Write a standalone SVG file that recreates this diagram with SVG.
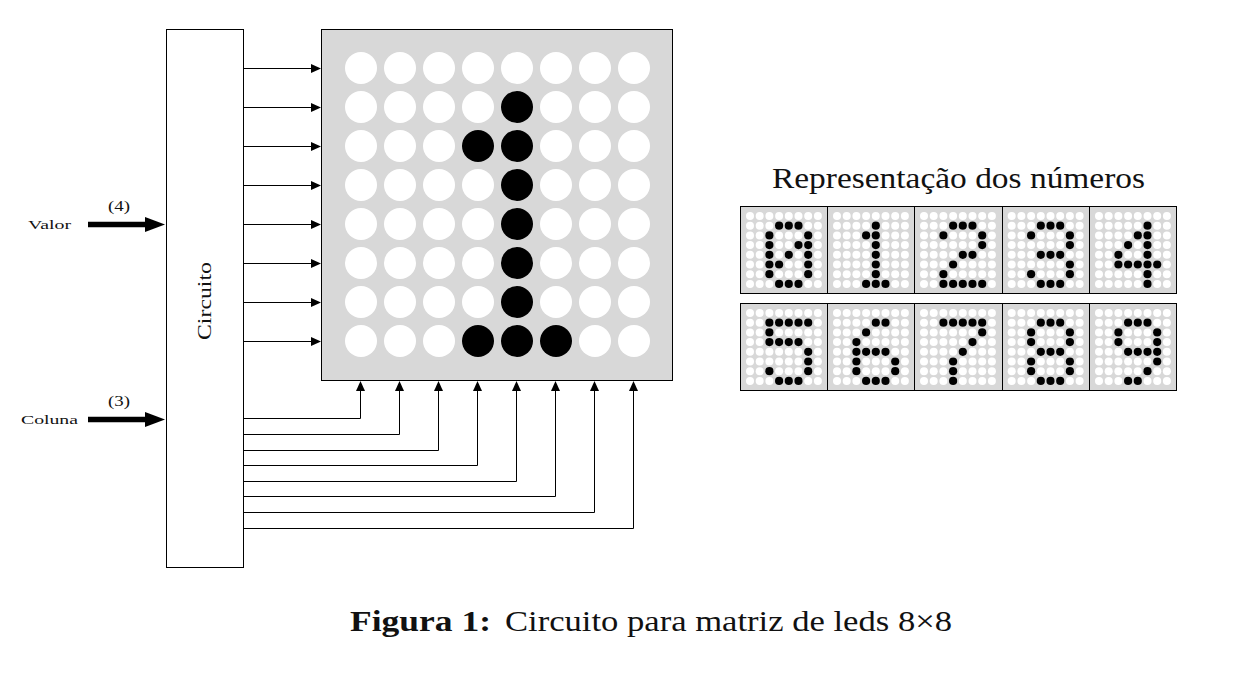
<svg xmlns="http://www.w3.org/2000/svg" xmlns:xlink="http://www.w3.org/1999/xlink" width="1239" height="689" viewBox="0 0 1239 689">
<style>
.t{font-family:"Liberation Serif","Times New Roman",serif;fill:#111}
.box{fill:#fff;stroke:#000;stroke-width:1}
.panel{fill:#d8d8d8;stroke:#000;stroke-width:1}
.c{fill:none;stroke:#000;stroke-width:1;marker-end:url(#a)}
.thick{fill:none;stroke:#000;stroke-width:5.500;marker-end:url(#A)}
.w{fill:#fff}.b{fill:#000}
</style>
<defs>
<marker id="a" markerUnits="userSpaceOnUse" markerWidth="10" markerHeight="9" refX="7" refY="4.500" orient="auto"><path d="M0 0L10 4.500L0 9z" fill="#000"/></marker>
<marker id="A" markerUnits="userSpaceOnUse" markerWidth="20" markerHeight="15" refX="5" refY="7.500" orient="auto"><path d="M0 0L20 7.500L0 15z" fill="#000"/></marker>
<g id="sd"><circle class="w" cx="0" cy="0" r="4"/><circle class="w" cx="9.7" cy="0" r="4"/><circle class="w" cx="19.4" cy="0" r="4"/><circle class="w" cx="29.1" cy="0" r="4"/><circle class="w" cx="38.8" cy="0" r="4"/><circle class="w" cx="48.5" cy="0" r="4"/><circle class="w" cx="58.2" cy="0" r="4"/><circle class="w" cx="67.9" cy="0" r="4"/></g>
<g id="sg"><use xlink:href="#sd" y="0"/><use xlink:href="#sd" y="9.7"/><use xlink:href="#sd" y="19.4"/><use xlink:href="#sd" y="29.1"/><use xlink:href="#sd" y="38.8"/><use xlink:href="#sd" y="48.5"/><use xlink:href="#sd" y="58.2"/><use xlink:href="#sd" y="67.9"/></g>
<g id="md"><circle class="w" cx="0" cy="0" r="16"/><circle class="w" cx="39" cy="0" r="16"/><circle class="w" cx="78" cy="0" r="16"/><circle class="w" cx="117" cy="0" r="16"/><circle class="w" cx="156" cy="0" r="16"/><circle class="w" cx="195" cy="0" r="16"/><circle class="w" cx="234" cy="0" r="16"/><circle class="w" cx="273" cy="0" r="16"/></g>
<circle id="k" class="b" r="4.100"/>
</defs>
<g id="circuito"><rect class="box" x="166.5" y="29.5" width="77" height="538"/>
<text class="t" font-size="19" text-anchor="middle" textLength="78" lengthAdjust="spacingAndGlyphs" transform="translate(211,301) rotate(-90)">Circuito</text></g>
<g id="matriz"><rect class="panel" x="321.5" y="29.5" width="351" height="351"/>
<g transform="translate(361,68)"><use xlink:href="#md" y="0"/><use xlink:href="#md" y="39"/><use xlink:href="#md" y="78"/><use xlink:href="#md" y="117"/><use xlink:href="#md" y="156"/><use xlink:href="#md" y="195"/><use xlink:href="#md" y="234"/><use xlink:href="#md" y="273"/>
<g class="b"><circle cx="156" cy="39" r="16"/><circle cx="117" cy="78" r="16"/><circle cx="156" cy="78" r="16"/><circle cx="156" cy="117" r="16"/><circle cx="156" cy="156" r="16"/><circle cx="156" cy="195" r="16"/><circle cx="156" cy="234" r="16"/><circle cx="117" cy="273" r="16"/><circle cx="156" cy="273" r="16"/><circle cx="195" cy="273" r="16"/></g></g></g>
<g id="conectores">
<path class="c" d="M243.5 68.500H318"/><path class="c" d="M243.5 107.500H318"/><path class="c" d="M243.5 146.500H318"/><path class="c" d="M243.5 185.500H318"/><path class="c" d="M243.5 224.500H318"/><path class="c" d="M243.5 263.500H318"/><path class="c" d="M243.5 302.500H318"/><path class="c" d="M243.5 341.500H318"/>
<path class="c" d="M243.500 418.500H360.500V384"/><path class="c" d="M243.500 434.500H399.500V384"/><path class="c" d="M243.500 450.500H438.500V384"/><path class="c" d="M243.500 465.500H477.500V384"/><path class="c" d="M243.500 481.500H516.500V384"/><path class="c" d="M243.500 496.500H555.500V384"/><path class="c" d="M243.500 512.500H594.500V384"/><path class="c" d="M243.500 528.500H633.500V384"/>
<path class="thick" d="M88 224.500H150"/><path class="thick" d="M88 419.500H150"/>
</g>
<g id="entrada-valor"><text class="t" x="28" y="229" font-size="13.500" textLength="43" lengthAdjust="spacingAndGlyphs">Valor</text><text class="t" x="108" y="211" font-size="15" textLength="22" lengthAdjust="spacingAndGlyphs">(4)</text></g>
<g id="entrada-coluna"><text class="t" x="21" y="424" font-size="13.500" textLength="57" lengthAdjust="spacingAndGlyphs">Coluna</text><text class="t" x="108" y="406" font-size="15" textLength="22" lengthAdjust="spacingAndGlyphs">(3)</text></g>
<text id="titulo" class="t" x="772" y="188" font-size="29" textLength="373" lengthAdjust="spacingAndGlyphs">Representação dos números</text>
<g id="digito-0" transform="translate(740.5,206.5)"><rect class="panel" width="87" height="87"/><use xlink:href="#sg" x="9.500" y="9.500"/><g transform="translate(9.500,9.500)"><use xlink:href="#k" x="29.100" y="9.700"/><use xlink:href="#k" x="38.800" y="9.700"/><use xlink:href="#k" x="48.500" y="9.700"/><use xlink:href="#k" x="19.400" y="19.400"/><use xlink:href="#k" x="58.200" y="19.400"/><use xlink:href="#k" x="19.400" y="29.100"/><use xlink:href="#k" x="48.500" y="29.100"/><use xlink:href="#k" x="58.200" y="29.100"/><use xlink:href="#k" x="19.400" y="38.800"/><use xlink:href="#k" x="38.800" y="38.800"/><use xlink:href="#k" x="58.200" y="38.800"/><use xlink:href="#k" x="19.400" y="48.500"/><use xlink:href="#k" x="29.100" y="48.500"/><use xlink:href="#k" x="58.200" y="48.500"/><use xlink:href="#k" x="19.400" y="58.200"/><use xlink:href="#k" x="58.200" y="58.200"/><use xlink:href="#k" x="29.100" y="67.900"/><use xlink:href="#k" x="38.800" y="67.900"/><use xlink:href="#k" x="48.500" y="67.900"/></g></g>
<g id="digito-1" transform="translate(827.5,206.5)"><rect class="panel" width="87" height="87"/><use xlink:href="#sg" x="9.500" y="9.500"/><g transform="translate(9.500,9.500)"><use xlink:href="#k" x="38.800" y="9.700"/><use xlink:href="#k" x="29.100" y="19.400"/><use xlink:href="#k" x="38.800" y="19.400"/><use xlink:href="#k" x="38.800" y="29.100"/><use xlink:href="#k" x="38.800" y="38.800"/><use xlink:href="#k" x="38.800" y="48.500"/><use xlink:href="#k" x="38.800" y="58.200"/><use xlink:href="#k" x="29.100" y="67.900"/><use xlink:href="#k" x="38.800" y="67.900"/><use xlink:href="#k" x="48.500" y="67.900"/></g></g>
<g id="digito-2" transform="translate(914.5,206.5)"><rect class="panel" width="88" height="87"/><use xlink:href="#sg" x="9.500" y="9.500"/><g transform="translate(9.500,9.500)"><use xlink:href="#k" x="29.100" y="9.700"/><use xlink:href="#k" x="38.800" y="9.700"/><use xlink:href="#k" x="48.500" y="9.700"/><use xlink:href="#k" x="19.400" y="19.400"/><use xlink:href="#k" x="58.200" y="19.400"/><use xlink:href="#k" x="58.200" y="29.100"/><use xlink:href="#k" x="38.800" y="38.800"/><use xlink:href="#k" x="48.500" y="38.800"/><use xlink:href="#k" x="29.100" y="48.500"/><use xlink:href="#k" x="19.400" y="58.200"/><use xlink:href="#k" x="19.400" y="67.900"/><use xlink:href="#k" x="29.100" y="67.900"/><use xlink:href="#k" x="38.800" y="67.900"/><use xlink:href="#k" x="48.500" y="67.900"/><use xlink:href="#k" x="58.200" y="67.900"/></g></g>
<g id="digito-3" transform="translate(1002.5,206.5)"><rect class="panel" width="87" height="87"/><use xlink:href="#sg" x="9.200" y="9.500"/><g transform="translate(9.200,9.500)"><use xlink:href="#k" x="29.100" y="9.700"/><use xlink:href="#k" x="38.800" y="9.700"/><use xlink:href="#k" x="48.500" y="9.700"/><use xlink:href="#k" x="19.400" y="19.400"/><use xlink:href="#k" x="58.200" y="19.400"/><use xlink:href="#k" x="58.200" y="29.100"/><use xlink:href="#k" x="29.100" y="38.800"/><use xlink:href="#k" x="38.800" y="38.800"/><use xlink:href="#k" x="48.500" y="38.800"/><use xlink:href="#k" x="58.200" y="48.500"/><use xlink:href="#k" x="19.400" y="58.200"/><use xlink:href="#k" x="58.200" y="58.200"/><use xlink:href="#k" x="29.100" y="67.900"/><use xlink:href="#k" x="38.800" y="67.900"/><use xlink:href="#k" x="48.500" y="67.900"/></g></g>
<g id="digito-4" transform="translate(1089.5,206.5)"><rect class="panel" width="87" height="87"/><use xlink:href="#sg" x="9.500" y="9.500"/><g transform="translate(9.500,9.500)"><use xlink:href="#k" x="48.500" y="9.700"/><use xlink:href="#k" x="38.800" y="19.400"/><use xlink:href="#k" x="48.500" y="19.400"/><use xlink:href="#k" x="29.100" y="29.100"/><use xlink:href="#k" x="48.500" y="29.100"/><use xlink:href="#k" x="19.400" y="38.800"/><use xlink:href="#k" x="48.500" y="38.800"/><use xlink:href="#k" x="19.400" y="48.500"/><use xlink:href="#k" x="29.100" y="48.500"/><use xlink:href="#k" x="38.800" y="48.500"/><use xlink:href="#k" x="48.500" y="48.500"/><use xlink:href="#k" x="58.200" y="48.500"/><use xlink:href="#k" x="48.500" y="58.200"/><use xlink:href="#k" x="48.500" y="67.900"/></g></g>
<g id="digito-5" transform="translate(740.5,303.5)"><rect class="panel" width="87" height="87"/><use xlink:href="#sg" x="9.500" y="9.500"/><g transform="translate(9.500,9.500)"><use xlink:href="#k" x="19.400" y="9.700"/><use xlink:href="#k" x="29.100" y="9.700"/><use xlink:href="#k" x="38.800" y="9.700"/><use xlink:href="#k" x="48.500" y="9.700"/><use xlink:href="#k" x="58.200" y="9.700"/><use xlink:href="#k" x="19.400" y="19.400"/><use xlink:href="#k" x="19.400" y="29.100"/><use xlink:href="#k" x="29.100" y="29.100"/><use xlink:href="#k" x="38.800" y="29.100"/><use xlink:href="#k" x="48.500" y="29.100"/><use xlink:href="#k" x="58.200" y="38.800"/><use xlink:href="#k" x="58.200" y="48.500"/><use xlink:href="#k" x="19.400" y="58.200"/><use xlink:href="#k" x="58.200" y="58.200"/><use xlink:href="#k" x="29.100" y="67.900"/><use xlink:href="#k" x="38.800" y="67.900"/><use xlink:href="#k" x="48.500" y="67.900"/></g></g>
<g id="digito-6" transform="translate(827.5,303.5)"><rect class="panel" width="87" height="87"/><use xlink:href="#sg" x="9.500" y="9.500"/><g transform="translate(9.500,9.500)"><use xlink:href="#k" x="38.800" y="9.700"/><use xlink:href="#k" x="48.500" y="9.700"/><use xlink:href="#k" x="29.100" y="19.400"/><use xlink:href="#k" x="19.400" y="29.100"/><use xlink:href="#k" x="19.400" y="38.800"/><use xlink:href="#k" x="29.100" y="38.800"/><use xlink:href="#k" x="38.800" y="38.800"/><use xlink:href="#k" x="48.500" y="38.800"/><use xlink:href="#k" x="19.400" y="48.500"/><use xlink:href="#k" x="58.200" y="48.500"/><use xlink:href="#k" x="19.400" y="58.200"/><use xlink:href="#k" x="58.200" y="58.200"/><use xlink:href="#k" x="29.100" y="67.900"/><use xlink:href="#k" x="38.800" y="67.900"/><use xlink:href="#k" x="48.500" y="67.900"/></g></g>
<g id="digito-7" transform="translate(914.5,303.5)"><rect class="panel" width="88" height="87"/><use xlink:href="#sg" x="9.500" y="9.500"/><g transform="translate(9.500,9.500)"><use xlink:href="#k" x="19.400" y="9.700"/><use xlink:href="#k" x="29.100" y="9.700"/><use xlink:href="#k" x="38.800" y="9.700"/><use xlink:href="#k" x="48.500" y="9.700"/><use xlink:href="#k" x="58.200" y="9.700"/><use xlink:href="#k" x="58.200" y="19.400"/><use xlink:href="#k" x="48.500" y="29.100"/><use xlink:href="#k" x="38.800" y="38.800"/><use xlink:href="#k" x="29.100" y="48.500"/><use xlink:href="#k" x="29.100" y="58.200"/><use xlink:href="#k" x="29.100" y="67.900"/></g></g>
<g id="digito-8" transform="translate(1002.5,303.5)"><rect class="panel" width="87" height="87"/><use xlink:href="#sg" x="9.200" y="9.500"/><g transform="translate(9.200,9.500)"><use xlink:href="#k" x="29.100" y="9.700"/><use xlink:href="#k" x="38.800" y="9.700"/><use xlink:href="#k" x="48.500" y="9.700"/><use xlink:href="#k" x="19.400" y="19.400"/><use xlink:href="#k" x="58.200" y="19.400"/><use xlink:href="#k" x="19.400" y="29.100"/><use xlink:href="#k" x="58.200" y="29.100"/><use xlink:href="#k" x="29.100" y="38.800"/><use xlink:href="#k" x="38.800" y="38.800"/><use xlink:href="#k" x="48.500" y="38.800"/><use xlink:href="#k" x="19.400" y="48.500"/><use xlink:href="#k" x="58.200" y="48.500"/><use xlink:href="#k" x="19.400" y="58.200"/><use xlink:href="#k" x="58.200" y="58.200"/><use xlink:href="#k" x="29.100" y="67.900"/><use xlink:href="#k" x="38.800" y="67.900"/><use xlink:href="#k" x="48.500" y="67.900"/></g></g>
<g id="digito-9" transform="translate(1089.5,303.5)"><rect class="panel" width="87" height="87"/><use xlink:href="#sg" x="9.500" y="9.500"/><g transform="translate(9.500,9.500)"><use xlink:href="#k" x="29.100" y="9.700"/><use xlink:href="#k" x="38.800" y="9.700"/><use xlink:href="#k" x="48.500" y="9.700"/><use xlink:href="#k" x="19.400" y="19.400"/><use xlink:href="#k" x="58.200" y="19.400"/><use xlink:href="#k" x="19.400" y="29.100"/><use xlink:href="#k" x="58.200" y="29.100"/><use xlink:href="#k" x="29.100" y="38.800"/><use xlink:href="#k" x="38.800" y="38.800"/><use xlink:href="#k" x="48.500" y="38.800"/><use xlink:href="#k" x="58.200" y="38.800"/><use xlink:href="#k" x="58.200" y="48.500"/><use xlink:href="#k" x="48.500" y="58.200"/><use xlink:href="#k" x="29.100" y="67.900"/><use xlink:href="#k" x="38.800" y="67.900"/></g></g>
<g id="legenda"><text class="t" x="350" y="631" font-size="29" font-weight="bold" textLength="141" lengthAdjust="spacingAndGlyphs">Figura 1:</text><text class="t" x="505" y="631" font-size="29" textLength="447" lengthAdjust="spacingAndGlyphs">Circuito para matriz de leds 8×8</text></g>
</svg>
